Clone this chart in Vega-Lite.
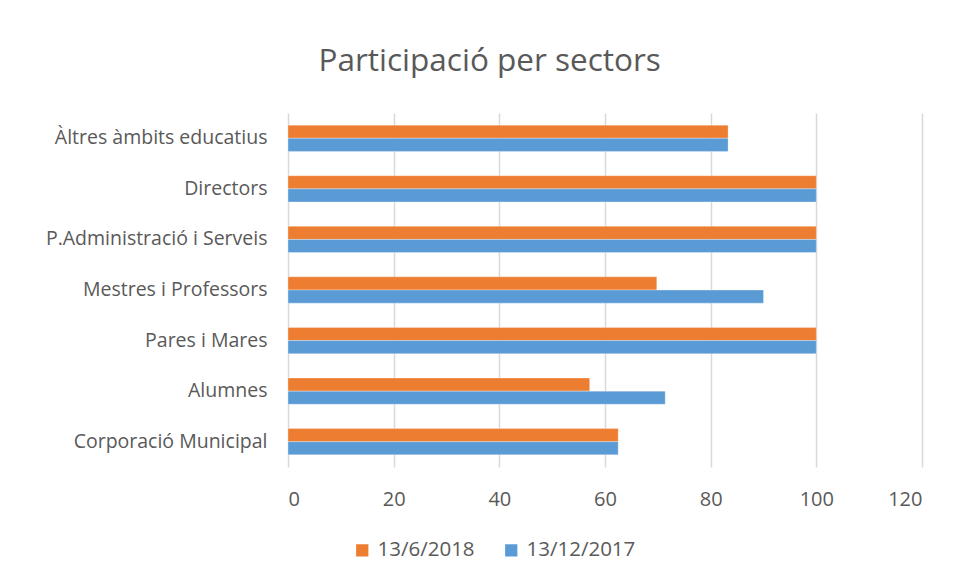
{
  "$schema": "https://vega.github.io/schema/vega-lite/v6.json",
  "autosize": "none",
  "width": 634,
  "height": 354,
  "padding": {"left": 288, "top": 113, "right": 35, "bottom": 116},
  "background": "white",
  "title": {"text": "Participació per sectors", "anchor": "middle", "frame": "bounds", "fontSize": 31.5, "font": "Open Sans", "fontWeight": "normal", "color": "#595959", "offset": 36, "dx": 6},
  "data": {"values": [
    {"sector": "Àltres àmbits educatius", "serie": "13/6/2018", "valor": 83.3},
    {"sector": "Àltres àmbits educatius", "serie": "13/12/2017", "valor": 83.3},
    {"sector": "Directors", "serie": "13/6/2018", "valor": 100},
    {"sector": "Directors", "serie": "13/12/2017", "valor": 100},
    {"sector": "P.Administració i Serveis", "serie": "13/6/2018", "valor": 100},
    {"sector": "P.Administració i Serveis", "serie": "13/12/2017", "valor": 100},
    {"sector": "Mestres i Professors", "serie": "13/6/2018", "valor": 69.8},
    {"sector": "Mestres i Professors", "serie": "13/12/2017", "valor": 90},
    {"sector": "Pares i Mares", "serie": "13/6/2018", "valor": 100},
    {"sector": "Pares i Mares", "serie": "13/12/2017", "valor": 100},
    {"sector": "Alumnes", "serie": "13/6/2018", "valor": 57.1},
    {"sector": "Alumnes", "serie": "13/12/2017", "valor": 71.4},
    {"sector": "Corporació Municipal", "serie": "13/6/2018", "valor": 62.5},
    {"sector": "Corporació Municipal", "serie": "13/12/2017", "valor": 62.5}
  ]},
  "mark": {"type": "bar", "stroke": "white", "strokeWidth": 0.5, "strokeOpacity": 0.6},
  "encoding": {
    "y": {"field": "sector", "type": "nominal", "sort": ["Àltres àmbits educatius", "Directors", "P.Administració i Serveis", "Mestres i Professors", "Pares i Mares", "Alumnes", "Corporació Municipal"],
      "scale": {"paddingInner": 0.48, "paddingOuter": 0.24},
      "axis": {"title": null, "domain": false, "ticks": false, "labelFontSize": 19.5, "labelFont": "Open Sans", "labelColor": "#595959", "labelPadding": 21, "labelLimit": 0}},
    "yOffset": {"field": "serie", "type": "nominal", "sort": ["13/6/2018", "13/12/2017"], "scale": {"paddingInner": 0, "paddingOuter": 0}},
    "x": {"field": "valor", "type": "quantitative", "scale": {"domain": [0, 120]},
      "axis": {"title": null, "values": [0, 20, 40, 60, 80, 100, 120], "domain": false, "ticks": false, "grid": true, "gridColor": "#d9d9d9", "gridWidth": 1.5, "labelFontSize": 20, "labelFont": "Open Sans", "labelColor": "#595959", "labelPadding": 22}},
    "color": {"field": "serie", "type": "nominal", "sort": ["13/6/2018", "13/12/2017"],
      "scale": {"domain": ["13/6/2018", "13/12/2017"], "range": ["#ED7D31", "#5B9BD5"]},
      "legend": {"title": null, "orient": "none", "legendX": 64, "legendY": 427, "direction": "horizontal", "symbolType": "square", "symbolSize": 150, "symbolStrokeWidth": 0, "labelFontSize": 20.5, "labelFont": "Open Sans", "labelColor": "#595959", "columnPadding": 26, "labelOffset": 5, "labelLimit": 0}}
  },
  "config": {"view": {"stroke": null}}
}
